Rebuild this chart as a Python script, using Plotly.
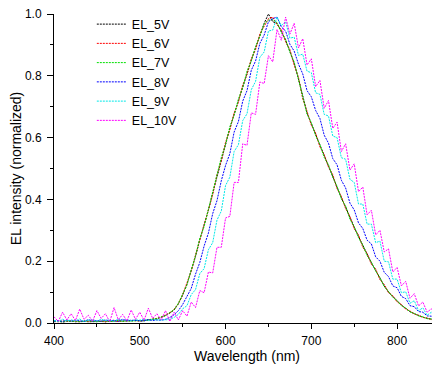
import plotly.graph_objects as go

wavelength = list(range(400, 855, 5))

el_5v = [
    0.004, 0.006, 0.003, 0.005, 0.007, 0.004, 0.005, 0.006, 0.004, 0.005,
    0.006, 0.005, 0.004, 0.006, 0.005, 0.007, 0.006, 0.008, 0.007, 0.009,
    0.006, 0.007, 0.009, 0.011, 0.014, 0.018, 0.024, 0.032, 0.042, 0.062,
    0.090, 0.125, 0.170, 0.215, 0.270, 0.315, 0.365, 0.420, 0.475, 0.530,
    0.580, 0.630, 0.675, 0.720, 0.765, 0.810, 0.850, 0.890, 0.930, 0.970,
    1.000, 0.975, 0.970, 0.945, 0.915, 0.880, 0.840, 0.790, 0.730, 0.680,
    0.645, 0.610, 0.575, 0.540, 0.510, 0.475, 0.440, 0.405, 0.375, 0.340,
    0.310, 0.280, 0.250, 0.220, 0.195, 0.170, 0.145, 0.120, 0.100, 0.085,
    0.070, 0.058, 0.047, 0.037, 0.030, 0.024, 0.019, 0.015, 0.012, 0.010,
    0.008,
]
el_6v = [
    0.005, 0.004, 0.007, 0.005, 0.006, 0.005, 0.004, 0.006, 0.005, 0.007,
    0.005, 0.006, 0.004, 0.007, 0.006, 0.005, 0.007, 0.006, 0.008, 0.007,
    0.007, 0.008, 0.010, 0.012, 0.015, 0.019, 0.025, 0.033, 0.044, 0.063,
    0.092, 0.128, 0.168, 0.220, 0.268, 0.320, 0.370, 0.415, 0.480, 0.525,
    0.585, 0.625, 0.680, 0.715, 0.770, 0.805, 0.855, 0.885, 0.935, 0.960,
    0.985, 0.990, 0.965, 0.950, 0.910, 0.885, 0.835, 0.795, 0.725, 0.685,
    0.640, 0.615, 0.570, 0.545, 0.505, 0.480, 0.435, 0.410, 0.370, 0.345,
    0.305, 0.285, 0.245, 0.225, 0.190, 0.175, 0.140, 0.125, 0.098, 0.088,
    0.068, 0.060, 0.045, 0.039, 0.029, 0.025, 0.018, 0.016, 0.011, 0.011,
    0.007,
]
el_7v = [
    0.006, 0.005, 0.004, 0.007, 0.005, 0.006, 0.004, 0.005, 0.007, 0.006,
    0.004, 0.006, 0.007, 0.005, 0.006, 0.008, 0.005, 0.007, 0.006, 0.008,
    0.008, 0.007, 0.011, 0.013, 0.014, 0.020, 0.024, 0.034, 0.043, 0.064,
    0.095, 0.123, 0.172, 0.218, 0.274, 0.312, 0.368, 0.425, 0.472, 0.535,
    0.578, 0.635, 0.672, 0.725, 0.762, 0.815, 0.848, 0.895, 0.928, 0.968,
    0.980, 0.982, 0.972, 0.942, 0.918, 0.876, 0.845, 0.786, 0.735, 0.676,
    0.648, 0.606, 0.578, 0.536, 0.512, 0.472, 0.442, 0.402, 0.378, 0.336,
    0.312, 0.276, 0.252, 0.218, 0.197, 0.168, 0.147, 0.118, 0.102, 0.083,
    0.072, 0.056, 0.049, 0.036, 0.031, 0.023, 0.020, 0.014, 0.013, 0.009,
    0.009,
]
el_8v = [
    0.006, 0.008, 0.005, 0.010, 0.006, 0.009, 0.007, 0.005, 0.011, 0.006,
    0.008, 0.006, 0.010, 0.007, 0.009, 0.005, 0.012, 0.007, 0.009, 0.008,
    0.009, 0.007, 0.011, 0.008, 0.010, 0.009, 0.012, 0.018, 0.027, 0.040,
    0.060, 0.088, 0.112, 0.158, 0.196, 0.249, 0.291, 0.354, 0.396, 0.460,
    0.510, 0.548, 0.618, 0.652, 0.718, 0.752, 0.818, 0.848, 0.905, 0.932,
    0.975, 0.985, 0.990, 0.958, 0.945, 0.902, 0.880, 0.838, 0.806, 0.752,
    0.732, 0.688, 0.662, 0.608, 0.582, 0.532, 0.512, 0.462, 0.437, 0.388,
    0.366, 0.324, 0.306, 0.268, 0.256, 0.214, 0.200, 0.164, 0.150, 0.120,
    0.114, 0.086, 0.079, 0.056, 0.053, 0.037, 0.035, 0.023, 0.022, 0.014,
    0.014,
]
el_9v = [
    0.008, 0.005, 0.012, 0.006, 0.010, 0.007, 0.013, 0.005, 0.009, 0.011,
    0.006, 0.012, 0.008, 0.010, 0.005, 0.013, 0.008, 0.011, 0.007, 0.010,
    0.009, 0.012, 0.008, 0.011, 0.010, 0.009, 0.010, 0.012, 0.018, 0.028,
    0.046, 0.056, 0.092, 0.108, 0.160, 0.176, 0.237, 0.260, 0.333, 0.362,
    0.445, 0.472, 0.555, 0.577, 0.655, 0.677, 0.755, 0.782, 0.860, 0.877,
    0.945, 0.948, 0.990, 0.962, 0.975, 0.922, 0.925, 0.866, 0.870, 0.815,
    0.810, 0.745, 0.740, 0.675, 0.670, 0.605, 0.600, 0.535, 0.530, 0.465,
    0.455, 0.385, 0.385, 0.320, 0.320, 0.260, 0.265, 0.200, 0.198, 0.142,
    0.142, 0.098, 0.101, 0.064, 0.072, 0.040, 0.049, 0.025, 0.035, 0.016,
    0.024,
]
el_10v = [
    0.020, 0.005, 0.035, 0.010, 0.030, 0.008, 0.045, 0.012, 0.025, 0.006,
    0.040, 0.015, 0.030, 0.004, 0.050, 0.010, 0.028, 0.007, 0.042, 0.012,
    0.035, 0.009, 0.048, 0.015, 0.030, 0.010, 0.040, 0.005, 0.035, 0.010,
    0.040, 0.022, 0.068, 0.050, 0.105, 0.098, 0.165, 0.162, 0.245, 0.245,
    0.340, 0.345, 0.455, 0.455, 0.580, 0.575, 0.680, 0.675, 0.780, 0.775,
    0.865, 0.845, 0.950, 0.915, 0.990, 0.935, 0.970, 0.890, 0.920, 0.835,
    0.855, 0.765, 0.785, 0.695, 0.720, 0.630, 0.650, 0.555, 0.580, 0.495,
    0.515, 0.425, 0.440, 0.350, 0.365, 0.285, 0.300, 0.230, 0.240, 0.165,
    0.180, 0.120, 0.135, 0.080, 0.095, 0.055, 0.068, 0.035, 0.046, 0.024,
    0.032,
]

series_names = ["EL_5V", "EL_6V", "EL_7V", "EL_8V", "EL_9V", "EL_10V"]
series_values = [el_5v, el_6v, el_7v, el_8v, el_9v, el_10v]
series_colors = ["#000000", "#ff0000", "#00e000", "#0000ff", "#00e8e8", "#ff00ff"]

x_ticks = [400, 500, 600, 700, 800]
y_ticks = [0.0, 0.2, 0.4, 0.6, 0.8, 1.0]

fig = go.Figure()
for name, vals, col in zip(series_names, series_values, series_colors):
    fig.add_trace(go.Scatter(
        x=wavelength, y=vals, name=name, mode="lines",
        line=dict(color=col, width=1, dash="2px,1px"),
        cliponaxis=False,
    ))

# The page body has an 8px default margin, so the figure is sized to fit the
# 440x367 window once offset by it.
font_family = "Liberation Sans, Arial, sans-serif"
fig.update_layout(
    width=432, height=359,
    margin=dict(l=46, r=0, t=6, b=44, autoexpand=False),
    paper_bgcolor="white", plot_bgcolor="white",
    font=dict(family=font_family, color="#000000", size=12),
    showlegend=True,
    legend=dict(
        x=0.098, y=1.0146, xanchor="left", yanchor="top",
        bgcolor="rgba(0,0,0,0)", borderwidth=0,
        font=dict(size=12.5, family=font_family),
        tracegroupgap=0,
    ),
    xaxis=dict(
        range=[400, 850], tickvals=x_ticks,
        ticktext=[str(v) for v in x_ticks],
        ticks="outside", ticklen=5, tickwidth=1, tickcolor="black",
        minor=dict(dtick=50, ticks="outside", ticklen=3, tickcolor="black"),
        showline=True, linecolor="black", linewidth=1,
        showgrid=False, zeroline=False, automargin=False,
        ticklabelstandoff=2, ticklabeloverflow="allow",
        title=dict(text="Wavelength (nm)", font=dict(size=14), standoff=2),
        tickfont=dict(size=12),
    ),
    yaxis=dict(
        range=[0, 1.0], tickvals=y_ticks,
        ticktext=["%.1f" % v for v in y_ticks],
        ticks="outside", ticklen=6, tickwidth=1, tickcolor="black",
        minor=dict(dtick=0.1, ticks="outside", ticklen=3, tickcolor="black"),
        showline=True, linecolor="black", linewidth=1,
        showgrid=False, zeroline=False, automargin=False,
        ticklabelstandoff=3, ticklabeloverflow="allow",
        title=dict(text="EL intensity (normalized)", font=dict(size=14), standoff=4),
        tickfont=dict(size=12),
    ),
)

fig.write_html("out.html")
